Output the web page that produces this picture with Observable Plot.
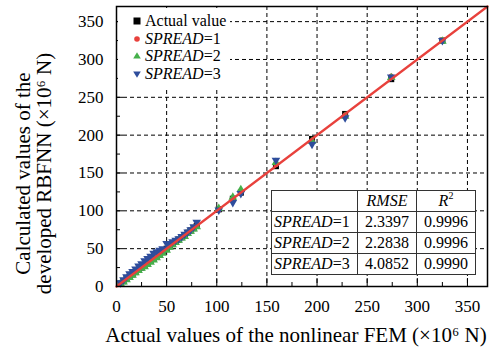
<!DOCTYPE html>
<html><head><meta charset="utf-8">
<script src="https://cdn.jsdelivr.net/npm/d3@7"></script>
<script src="https://cdn.jsdelivr.net/npm/@observablehq/plot@0.6"></script>
<style>
body{margin:0;background:#fff;}
#wrap{position:relative;width:489px;height:350px;font-family:"Liberation Serif","Times New Roman",serif;color:#000;}
#wrap svg text{font-family:"Liberation Serif","Times New Roman",serif;}
#legend{position:absolute;left:118px;top:8px;width:112px;height:79px;background:#fff;}
.li{position:absolute;left:0;height:18px;font-size:16px;line-height:18px;white-space:nowrap;}
.li svg{position:absolute;left:13px;top:3px;}
.li span{position:absolute;left:27px;top:0;}
#tbl{position:absolute;left:271px;top:190px;border-collapse:collapse;background:#fff;font-size:16px;}
#tbl td{border:1px solid #333;height:20px;padding:0;line-height:20px;text-align:center;}
#tbl td.lab{text-align:left;padding-left:2px;}
</style></head>
<body>
<div id="wrap"></div>
<script>
// ---- data ----
const fem     = [4, 7, 10, 13, 16, 19, 22, 25, 28, 31, 34, 37, 40, 43, 46, 50, 53, 56, 59, 62, 65, 68, 71, 74, 77, 80, 102, 116, 124, 159, 195, 228, 274, 325];
const spread1 = [5, 8, 10, 14, 17, 20, 22, 26, 29, 32, 34, 38, 41, 43, 47, 50, 54, 56, 60, 62, 66, 68, 72, 74, 78, 81, 101, 114, 125, 161, 193, 227, 278, 326];
const spread2 = [4, 6, 9, 12, 15, 18, 21, 24, 26, 29, 32, 35, 38, 41, 44, 48, 52, 55, 58, 61, 64, 66, 70, 73, 76, 79, 103, 118, 128, 164, 192, 225, 276, 324];
const spread3 = [5, 9, 13, 17, 20, 23, 27, 30, 34, 37, 40, 44, 46, 48, 50, 57, 57, 59, 61, 63, 66, 69, 72, 75, 79, 85, 101, 111, 123, 167, 188, 223, 277, 325];
const fitLine = [0, 370];
const labelTicks = [0, 50, 100, 150, 200, 250, 300, 350];
const gridTicks = [50, 100, 150, 200, 250, 300, 350];
const minorTicks = [25, 75, 125, 175, 225, 275, 325];
const seriesNames = ["Actual value", "SPREAD=1", "SPREAD=2", "SPREAD=3"];
const tableRows = ["SPREAD=1", "SPREAD=2", "SPREAD=3"];
const rmse = ["2.3397", "2.2838", "4.0852"];
const r2 = ["0.9996", "0.9996", "0.9990"];
const xTitle = "Actual values of the nonlinear FEM (×10⁶ N)";
const yTitle = "Calculated values of the\ndeveloped RBFNN (×10⁶ N)";

const RED = "#e8413c", GREEN = "#45b04a", BLUE = "#2e4d9c";
const FONT = "'Liberation Serif', 'Times New Roman', serif";

const rows = fem.map((x, i) => ({x, actual: x, s1: spread1[i], s2: spread2[i], s3: spread3[i]}));

const triDown = {
  draw(context, size) {
    const s3 = Math.sqrt(3);
    const y = Math.sqrt(size / (s3 * 3));
    context.moveTo(0, y * 2);
    context.lineTo(-s3 * y, -y);
    context.lineTo(s3 * y, -y);
    context.closePath();
  }
};

const W = 489, H = 350, ML = 116, MR = 2, MT = 6, MB = 64;
const innerW = W - ML - MR, innerH = H - MT - MB;

const chart = Plot.plot({
  width: W, height: H,
  marginLeft: ML, marginRight: MR, marginTop: MT, marginBottom: MB,
  x: {domain: [0, 370]},
  y: {domain: [0, 370]},
  style: {fontFamily: FONT, background: "#fff", color: "#000"},
  marks: [
    Plot.gridX(gridTicks, {stroke: "#000", strokeOpacity: 1, strokeDasharray: "4,3", strokeWidth: 1}),
    Plot.gridY(gridTicks, {stroke: "#000", strokeOpacity: 1, strokeDasharray: "4,3", strokeWidth: 1}),
    Plot.dot(rows, {x: "x", y: "actual", symbol: "square", r: 3.4, fill: "#000"}),
    Plot.dot(rows, {x: "x", y: "s1", symbol: "circle", r: 2.5, fill: RED}),
    Plot.dot(rows, {x: "x", y: "s2", symbol: "triangle", r: 3.2, fill: GREEN}),
    Plot.dot(rows, {x: "x", y: "s3", symbol: triDown, r: 3.2, fill: BLUE}),
    Plot.line(fitLine, {x: d => d, y: d => d, stroke: RED, strokeWidth: 2.2}),
    Plot.tickX(gridTicks, {x: d => d, insetTop: innerH - 8, stroke: "#000", strokeWidth: 1}),
    Plot.tickX(minorTicks, {x: d => d, insetTop: innerH - 4, stroke: "#000", strokeWidth: 1}),
    Plot.tickY(gridTicks, {y: d => d, insetRight: innerW - 7, stroke: "#000", strokeWidth: 1}),
    Plot.tickY(minorTicks, {y: d => d, insetRight: innerW - 4, stroke: "#000", strokeWidth: 1}),
    Plot.frame({stroke: "#000", strokeWidth: 1.5}),
    Plot.axisX(labelTicks, {tickSize: 0, tickPadding: 13, fontSize: 17, fontFamily: FONT, label: null}),
    Plot.axisY(labelTicks, {tickSize: 0, tickPadding: 13, fontSize: 17, fontFamily: FONT, label: null}),
    Plot.text([xTitle], {frameAnchor: "bottom", text: d => d, dy: 41, dx: -6, fontSize: 21, fontFamily: FONT, lineAnchor: "top"}),
    Plot.text([yTitle], {frameAnchor: "left", text: d => d, rotate: -90, dx: -83, dy: 27, fontSize: 21, fontFamily: FONT, lineHeight: 1, textAnchor: "middle", lineAnchor: "middle"})
  ]
});

const wrap = document.getElementById("wrap");
wrap.appendChild(chart);

// legend
const legend = document.createElement("div");
legend.id = "legend";
const symbolsSvg = [
  `<rect x="2.5" y="2.5" width="7" height="7" fill="#000"/>`,
  `<circle cx="6" cy="6" r="2.8" fill="${RED}"/>`,
  `<path d="M6,2.2 L9.8,8.6 L2.2,8.6 Z" fill="${GREEN}"/>`,
  `<path d="M6,9.8 L9.8,3.4 L2.2,3.4 Z" fill="${BLUE}"/>`
];
const tops = [4, 21.5, 39, 57];
seriesNames.forEach((name, i) => {
  const d = document.createElement("div");
  d.className = "li";
  d.style.top = tops[i] + "px";
  const label = name.startsWith("SPREAD") ? `<i>SPREAD</i>${name.slice(6)}` : name;
  d.innerHTML = `<svg width="12" height="12">${symbolsSvg[i]}</svg><span>${label}</span>`;
  legend.appendChild(d);
});
wrap.appendChild(legend);

// table
const tbl = document.createElement("table");
tbl.id = "tbl";
let html = `<tr><td style="width:85px"></td><td style="width:58px"><i>RMSE</i></td><td style="width:58px"><i>R</i><sup style="font-size:10px;vertical-align:7px;line-height:0">2</sup></td></tr>`;
tableRows.forEach((r, i) => {
  html += `<tr><td class="lab"><i>SPREAD</i>${r.slice(6)}</td><td>${rmse[i]}</td><td>${r2[i]}</td></tr>`;
});
tbl.innerHTML = html;
wrap.appendChild(tbl);
</script>
</body></html>
